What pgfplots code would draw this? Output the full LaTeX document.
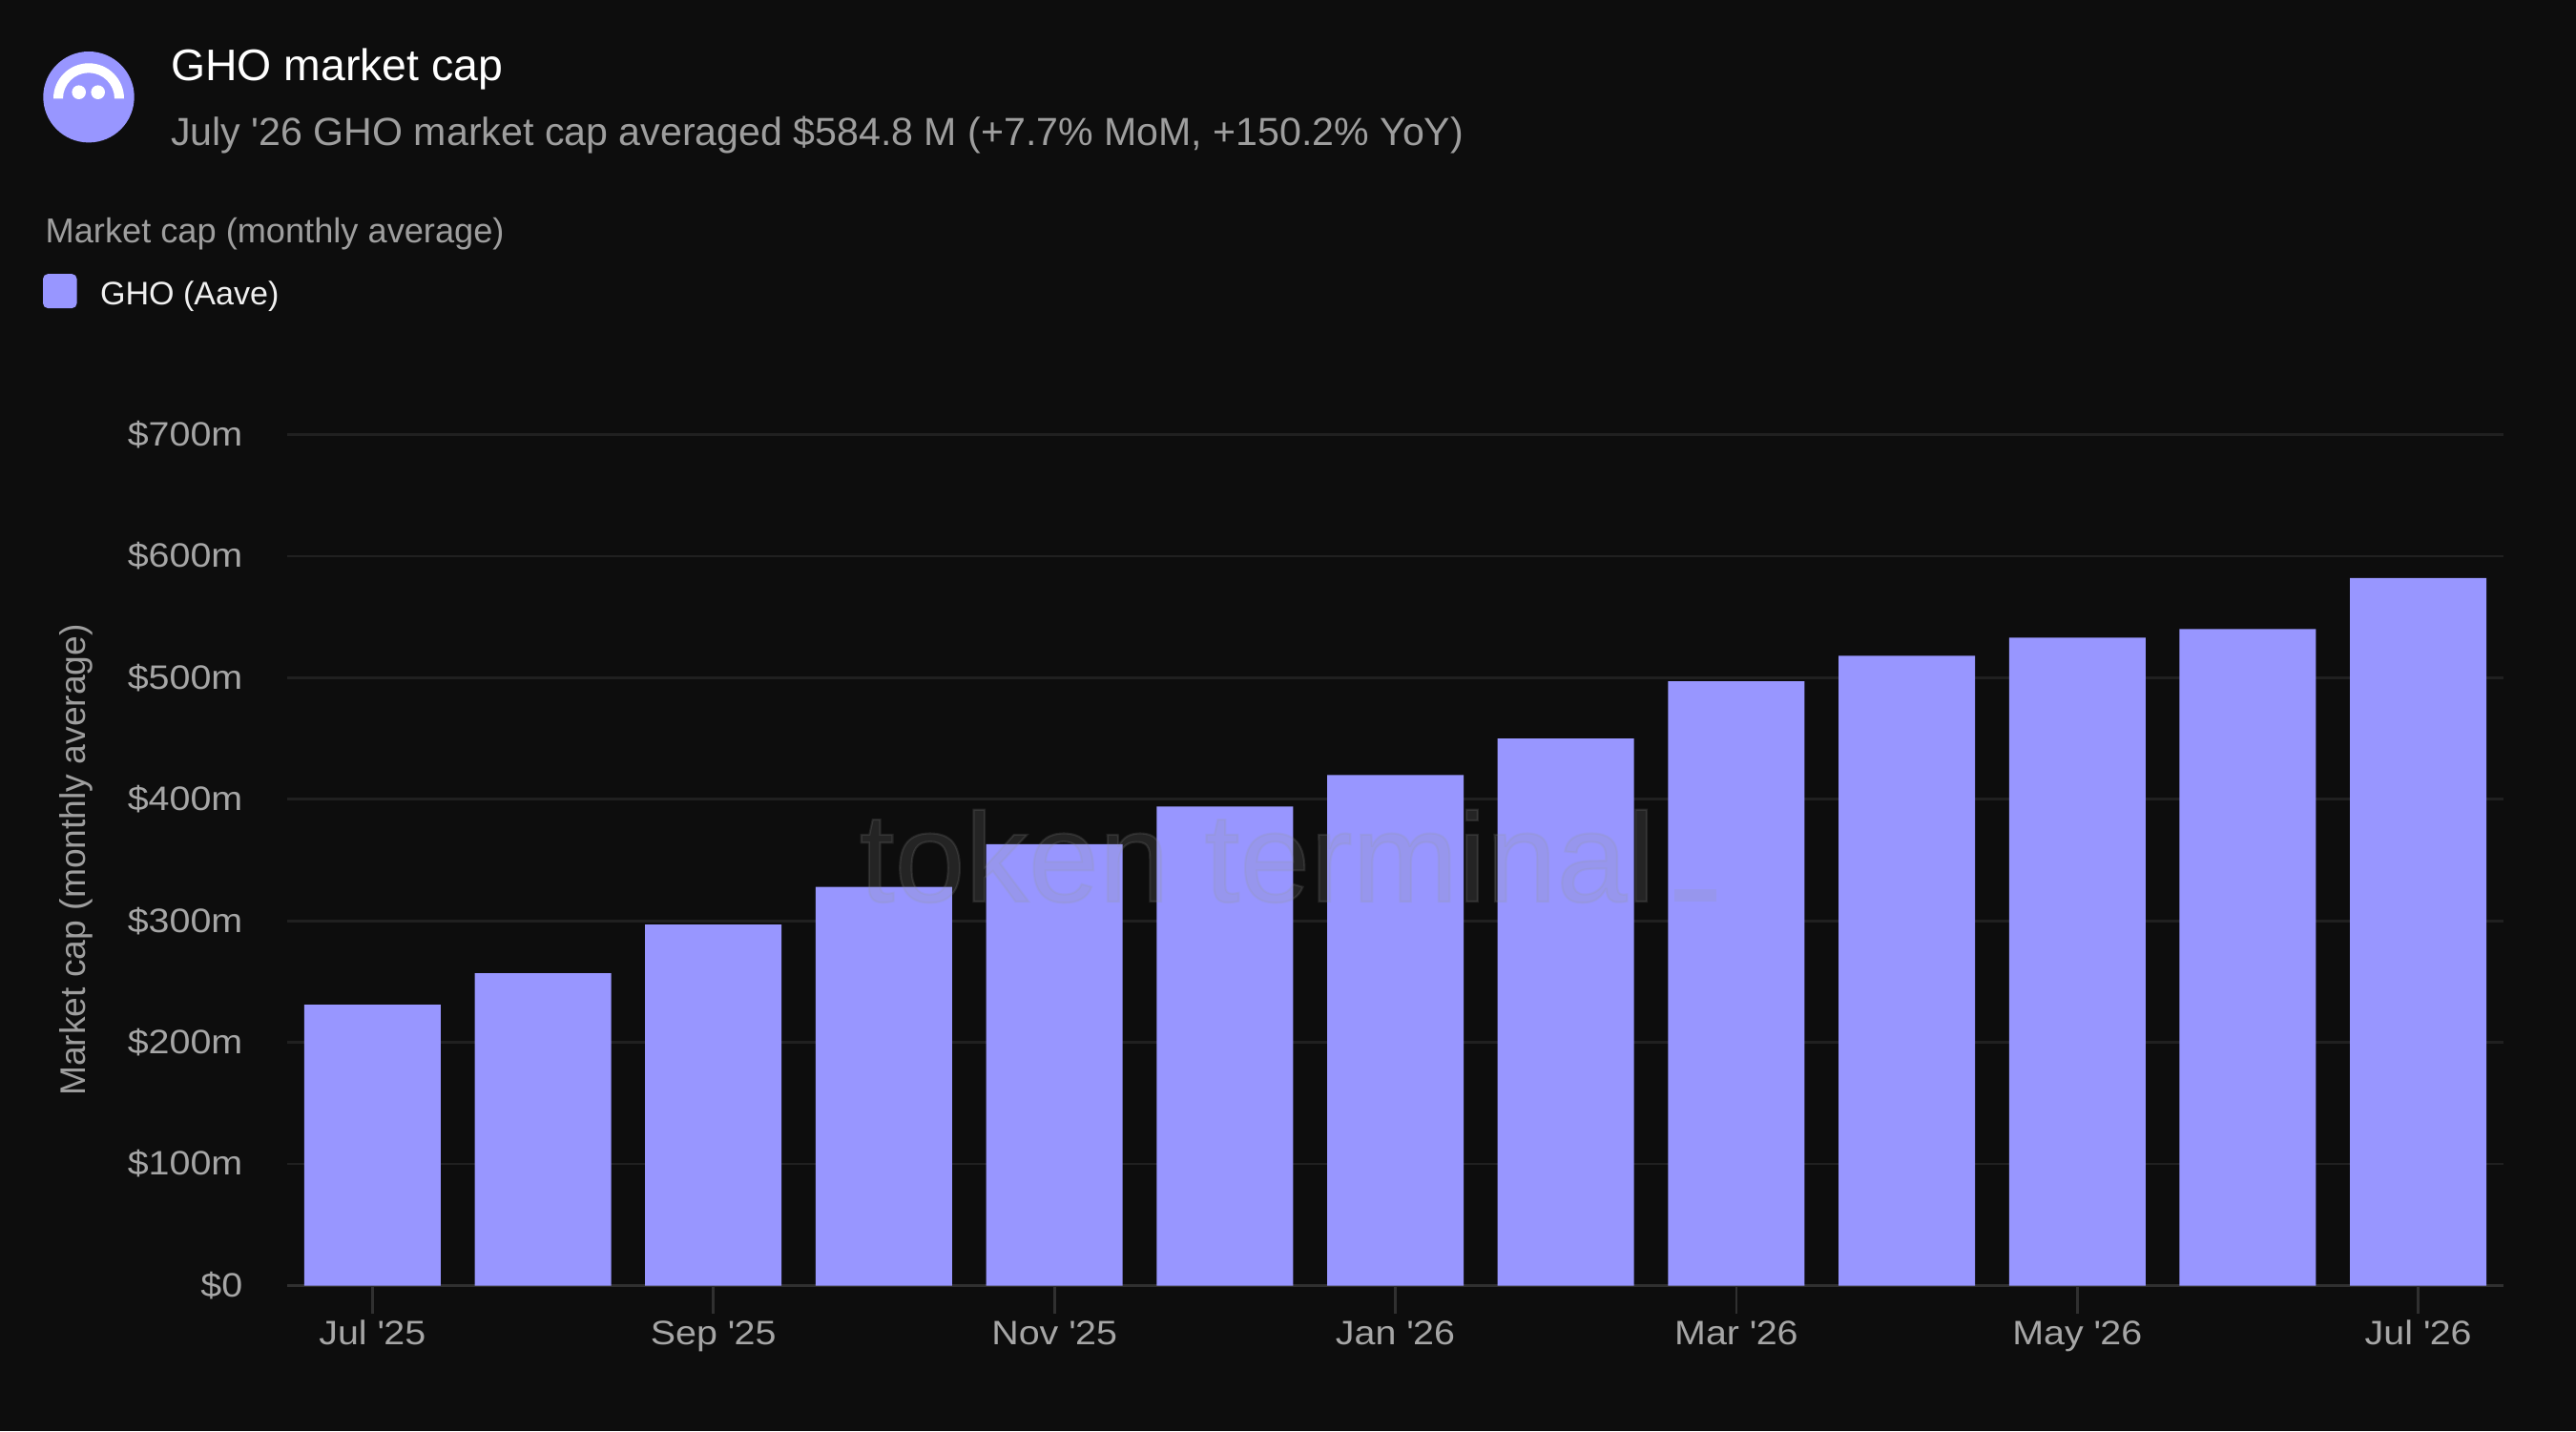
\documentclass[border=0pt]{standalone}
\usepackage{fontspec}
\setmainfont{Liberation Sans}
\newfontfamily\tickfont[FakeStretch=1.11]{Liberation Sans}
\newfontfamily\wmfont[FakeBold=1.6]{Liberation Sans}
\usepackage{pgfplots}
\pgfplotsset{compat=1.18}
\definecolor{bg}{RGB}{13,13,13}
\definecolor{barc}{RGB}{152,150,255}
\definecolor{gridc}{RGB}{32,32,32}
\definecolor{axisc}{RGB}{48,48,48}
\definecolor{ticktext}{RGB}{166,166,166}
\definecolor{subtext}{RGB}{158,158,158}
\definecolor{wm}{RGB}{150,150,150}
\begin{document}
\begin{tikzpicture}
\fill[bg] (0,0) rectangle (27,15);
\path[use as bounding box] (0,0) rectangle (27,15);
% logo
\fill[barc] (0.93,13.983) circle (0.477);
\fill[white] (1.30,13.967) arc[start angle=0,end angle=180,radius=0.37] -- ++(0.10,0) arc[start angle=180,end angle=0,radius=0.27] -- cycle;
\fill[white] (0.827,14.033) circle (0.073);
\fill[white] (1.027,14.033) circle (0.073);
% header
\node[anchor=base west, inner sep=0pt, text=white, font=\fontsize{13.2}{16}\selectfont] at (1.786,14.15) {GHO market cap};
\node[anchor=base west, inner sep=0pt, text=subtext, font=\fontsize{11.7}{14}\selectfont] at (1.786,13.47) {July \textquotesingle26 GHO market cap averaged \$584.8 M (+7.7\% MoM, +150.2\% YoY)};
\node[anchor=base west, inner sep=0pt, text=subtext, font=\fontsize{10.3}{12}\selectfont] at (0.47,12.45) {Market cap (monthly average)};
\begin{axis}[
  at={(3.01cm,1.525cm)}, anchor=south west, scale only axis,
  width=23.23cm, height=8.92cm,
  xmin=-0.5, xmax=12.5, ymin=0, ymax=700,
  axis line style={draw=none},
  ytick={0,100,...,700},
  yticklabels={\$0,\$100m,\$200m,\$300m,\$400m,\$500m,\$600m,\$700m},
  ymajorgrids, major grid style={gridc, line width=0.8pt},
  extra y ticks={0}, extra y tick labels={},
  extra y tick style={grid=major, major grid style={axisc, line width=0.9pt}, major tick length=0pt},
  ytick style={draw=none},
  ytick pos=left,
  yticklabel style={anchor=east, inner sep=0pt, xshift=-0.17cm, text=ticktext, font=\tickfont\fontsize{10.1}{12}\selectfont},
  xtick={0,2,4,6,8,10,12},
  xticklabels={Jul \textquotesingle25,Sep \textquotesingle25,Nov \textquotesingle25,Jan \textquotesingle26,Mar \textquotesingle26,May \textquotesingle26,Jul \textquotesingle26},
  xtick pos=bottom,
  tick align=outside, major tick length=0.29cm,
  xtick style={draw=axisc, line width=0.8pt},
  xticklabel style={anchor=north, inner sep=0pt, yshift=-0.07cm, text=ticktext, font=\tickfont\fontsize{10.1}{12}\selectfont},
  ylabel={Market cap (monthly average)},
  ylabel style={at={(axis description cs:-0.0951,0.5)}, anchor=center, text=subtext, font=\fontsize{10.6}{12}\selectfont},
  legend style={at={(axis description cs:-0.1102,1.1675)}, anchor=west, draw=none, fill=none, inner sep=0pt, outer sep=0pt, text=white!94!black, font=\fontsize{9.7}{12}\selectfont, legend cell align=left, nodes={inner sep=0pt}},
  legend image code/.code={\fill[barc, rounded corners=1.5pt] (0cm,-0.13cm) rectangle (0.356cm,0.23cm); \path (0.6cm,0cm);},
]
\addplot[ybar, bar width=1.43cm, fill=barc, draw=none] coordinates {
(0,231) (1,257) (2,297) (3,328) (4,363) (5,394) (6,420) (7,450) (8,497) (9,518) (10,533) (11,540) (12,582)
};
\addlegendentry{GHO (Aave)}
\end{axis}
\node[anchor=base west, inner sep=0pt, text=wm, text opacity=0.17, font=\wmfont\fontsize{37.8}{42}\selectfont] at (9.0,5.55) {token terminal\hspace{0.2cm}\rule{0.44cm}{0.13cm}};
\end{tikzpicture}
\end{document}
